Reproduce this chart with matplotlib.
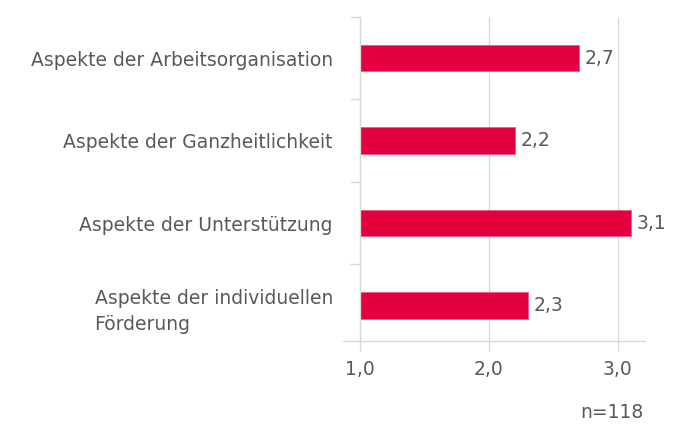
import matplotlib
matplotlib.use("Agg")
import matplotlib.pyplot as plt

categories = ["Aspekte der Arbeitsorganisation",
              "Aspekte der Ganzheitlichkeit",
              "Aspekte der Unterstützung",
              "Aspekte der individuellen\nFörderung"]
values = [2.7, 2.2, 3.1, 2.3]
value_labels = ["2,7", "2,2", "3,1", "2,3"]
xticks = [1.0, 2.0, 3.0]
xtick_labels = ["1,0", "2,0", "3,0"]
note = "n=118"

plt.rcParams['font.family'] = ['DejaVu Sans']
text_color = "#595959"
grid_color = "#D9D9D9"
bar_color = "#E2003F"
fs = 13.5

fig = plt.figure(figsize=(6.9, 4.24), dpi=100)
ax = fig.add_axes([0.5217, 0.1958, 0.9348 - 0.5217, 0.96 - 0.1958])

n = len(categories)
ypos = list(range(n))
x0 = 1.0
ax.barh(ypos, [v - x0 for v in values], left=x0, height=0.32, color=bar_color,
        edgecolor="#EE5C80", linewidth=0.6, zorder=3)
for y, v, lab in zip(ypos, values, value_labels):
    ax.text(v + 0.045, y, lab, va="center", ha="left", fontsize=fs,
            color=text_color, zorder=4)

ax.set_xlim(1.0, 3.21)
ax.set_ylim(3.43, -0.5)
ax.set_xticks(xticks)
ax.set_xticklabels(xtick_labels, fontsize=fs, color=text_color)
ax.set_yticks(ypos)
ax.set_yticklabels(categories, fontsize=fs, color=text_color)
for lab in ax.get_yticklabels():
    lab.set_multialignment("left")
    lab.set_linespacing(1.5)
ax.set_yticks([i - 0.5 for i in range(n)], minor=True)

ax.tick_params(axis="y", which="major", length=0, pad=19.5)
ax.tick_params(axis="y", which="minor", length=7.5, color=grid_color, width=1)
ax.tick_params(axis="x", which="major", length=7.5, color=grid_color, width=1,
               pad=6)

ax.grid(axis="x", color=grid_color, linewidth=1, zorder=0)
for s in ["top", "right", "bottom"]:
    ax.spines[s].set_visible(False)
ax.spines["left"].set_color(grid_color)
ax.spines["left"].set_linewidth(1)
ax.spines["left"].set_zorder(5)

ax.plot([-17 / 285, 1], [0, 0], transform=ax.transAxes, color=grid_color,
        linewidth=1, clip_on=False, zorder=5)

fig.text(643 / 690, 1 - 412 / 424, note, ha="right", va="center",
         fontsize=fs, color=text_color)

fig.savefig("out.png", dpi=100)
